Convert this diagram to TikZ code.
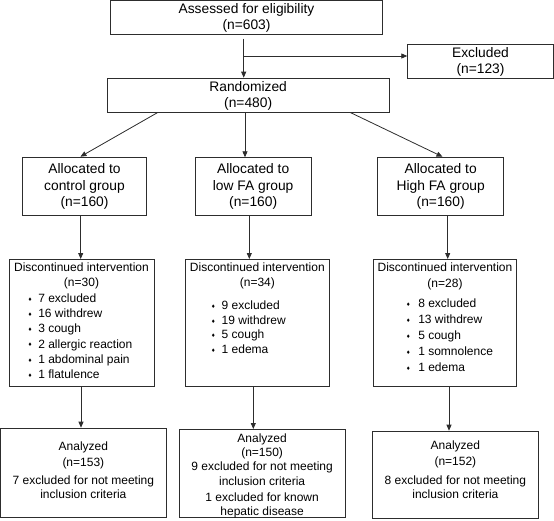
\documentclass[tikz,border=0pt]{standalone}
\usepackage{fontspec}
\setmainfont{Liberation Sans}
\newfontfamily\dejavu{DejaVu Sans}
\usetikzlibrary{arrows.meta}
\definecolor{ln}{RGB}{45,45,45}
\newcommand{\dia}{\raisebox{1.2pt}{\dejavu\fontsize{5}{5}\selectfont ♦}}
\newcommand{\bitem}[4]{\makebox[#1][l]{\hspace*{#2}\makebox[0pt][c]{\dia}\hspace*{\dimexpr#3-#2\relax}#4}}
\begin{document}
\begin{tikzpicture}[x=1pt,y=-1pt,
  box/.style={draw=ln, line width=0.8pt, inner sep=0pt, anchor=north, align=center},
  big/.style={box, font=\fontsize{13.8}{16.4}\selectfont},
  small/.style={box, font=\fontsize{12}{#1}\selectfont},
  arr/.style={draw=ln, line width=0.8pt, -{Triangle[length=6pt,width=5pt]}}]
\useasboundingbox (0,0) rectangle (554,520);

\node[big, minimum width=271.6pt, text height=29pt, text depth=4.6pt] (assess) at (246.5,0.4) {Assessed for eligibility\\(n=603)};
\node[big, minimum width=145.6pt, text height=29.4pt, text depth=4.9pt] (excl) at (480.5,43.7) {Excluded\\(n=123)};
\node[big, minimum width=281.7pt, text height=29.7pt, text depth=4.3pt] (rand) at (248.15,77.7) {Randomized\\(n=480)};

\node[big, minimum width=124.4pt, text height=48.8pt, text depth=9.2pt] (alloc1) at (84.5,157.3) {Allocated to\\control group\\(n=160)};
\node[big, minimum width=116.3pt, text height=48.8pt, text depth=9.2pt] (alloc2) at (253.15,157.3) {Allocated to\\low FA group\\(n=160)};
\node[big, minimum width=126pt, text height=48.8pt, text depth=9.2pt] (alloc3) at (440.7,157.3) {Allocated to\\High FA group\\(n=160)};

\node[small=15.3, minimum width=145pt, text height=119.3pt, text depth=7.4pt] (disc1) at (81.5,259) {Discontinued intervention\\(n=30)\\
\bitem{145pt}{21pt}{29.3pt}{7 excluded}\\
\bitem{145pt}{21pt}{29.3pt}{16 withdrew}\\
\bitem{145pt}{21pt}{29.3pt}{3 cough}\\
\bitem{145pt}{21pt}{29.3pt}{2 allergic reaction}\\
\bitem{145pt}{21pt}{29.3pt}{1 abdominal pain}\\
\bitem{145pt}{21pt}{29.3pt}{1 flatulence}};
\node[small=14.6, minimum width=144.7pt, text height=94.1pt, text depth=32.6pt] (disc2) at (257.35,259) {Discontinued intervention\\(n=34)\\[8.9pt]
\bitem{144.7pt}{28.3pt}{36.7pt}{9 excluded}\\
\bitem{144.7pt}{28.3pt}{36.7pt}{19 withdrew}\\
\bitem{144.7pt}{28.3pt}{36.7pt}{5 cough}\\
\bitem{144.7pt}{28.3pt}{36.7pt}{1 edema}};
\node[small=16.1, minimum width=142.6pt, text height=112.4pt, text depth=14.3pt] (disc3) at (445,259) {Discontinued intervention\\(n=28)\\[3.6pt]
\bitem{142.6pt}{34.6pt}{44.6pt}{8 excluded}\\
\bitem{142.6pt}{34.6pt}{44.6pt}{13 withdrew}\\
\bitem{142.6pt}{34.6pt}{44.6pt}{5 cough}\\
\bitem{142.6pt}{34.6pt}{44.6pt}{1 somnolence}\\
\bitem{142.6pt}{34.6pt}{44.6pt}{1 edema}};

\node[small=14.2, minimum width=165.3pt, text height=70.1pt, text depth=19.5pt] (an1) at (83.35,427.7) {Analyzed\\[1.8pt](n=153)\\[3.4pt]7 excluded for not meeting\\inclusion criteria};
\node[small=14.2, minimum width=166.3pt, text height=86.2pt, text depth=2.1pt] (an2) at (262.15,429) {Analyzed\\(n=150)\\9 excluded for not meeting\\[0.5pt]inclusion criteria\\[1.8pt]1 excluded for known\\hepatic disease};
\node[small=14.2, minimum width=165.3pt, text height=67.1pt, text depth=20.2pt] (an3) at (455.35,430.7) {Analyzed\\[1.9pt](n=152)\\[4.7pt]8 excluded for not meeting\\inclusion criteria};

\coordinate (br) at (243.7,56);
\draw[arr, shorten <=3.7pt] (assess.south -| 243.7,0) -- (rand.north -| 243.7,0);
\draw[arr] (br) -- (excl.west |- br);
\draw[arr, shorten >=1.3pt] (rand.south -| 157.7,0) -- (alloc1.north -| 79.3,0);
\draw[arr] (rand.south -| 245,0) -- (alloc2.north -| 245,0);
\draw[arr, shorten >=1.3pt] (rand.south -| 350.3,0) -- (alloc3.north -| 443.7,0);
\draw[arr] (alloc1.south -| 80.7,0) -- (disc1.north -| 80.7,0);
\draw[arr] (alloc2.south -| 249.3,0) -- (disc2.north -| 249.3,0);
\draw[arr] (alloc3.south -| 447.7,0) -- (disc3.north -| 447.7,0);
\draw[arr] (disc1.south -| 81,0) -- (an1.north -| 81,0);
\draw[arr] (disc2.south -| 253.3,0) -- (an2.north -| 253.3,0);
\draw[arr] (disc3.south -| 449,0) -- (an3.north -| 449,0);
\end{tikzpicture}
\end{document}
